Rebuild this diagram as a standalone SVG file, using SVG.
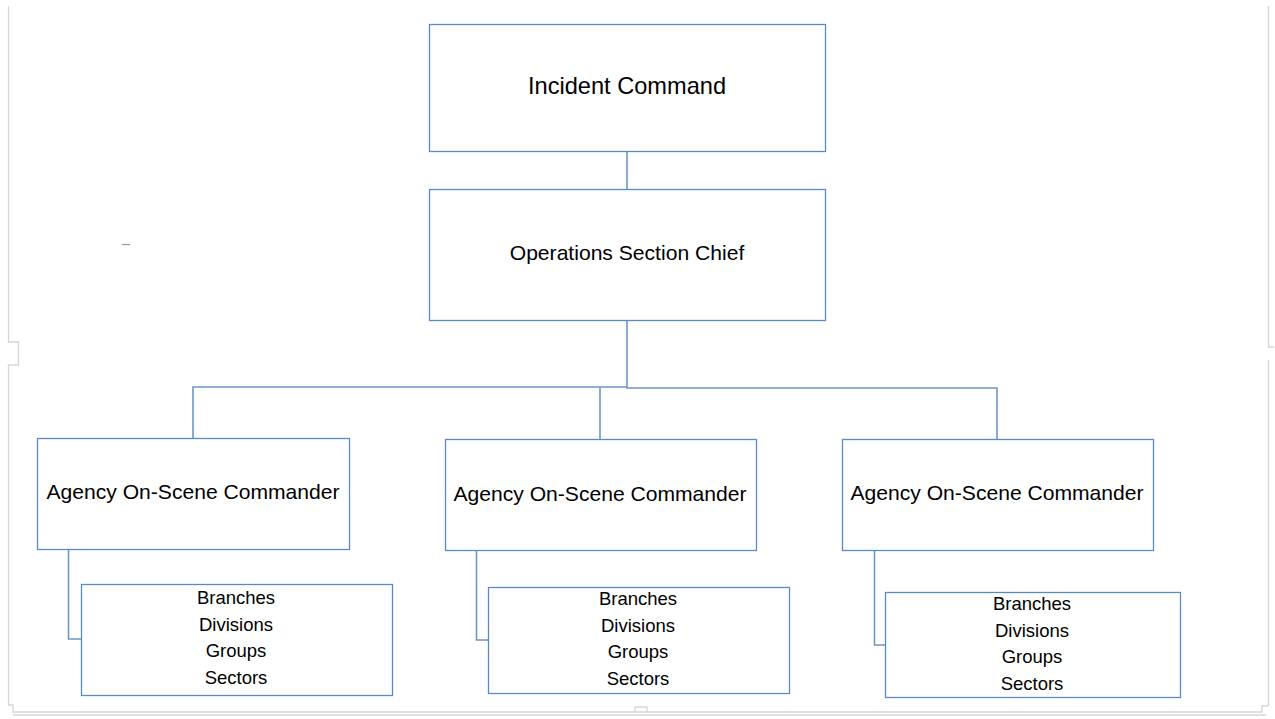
<svg xmlns="http://www.w3.org/2000/svg" width="1275" height="719" viewBox="0 0 1275 719">
<style>
.box{fill:#fff;stroke:#5a8ac6;stroke-width:1.3}
.ln{fill:none;stroke:#6b97c9;stroke-width:1.6}
.pg{fill:none;stroke:#d6d6d6;stroke-width:1.3}
text{font-family:"Liberation Sans",Arial,sans-serif;fill:#000;text-anchor:middle}
.t1{font-size:23.6px}
.t2{font-size:21.1px}
.t3{font-size:18.5px}
</style>
<rect width="1275" height="719" fill="#fff"/>
<g id="page">
<path class="pg" d="M8.5 6 V342 H18.5 V365 H8.5 V705 H13 V712 H1262 V706 H1268"/>
<path class="pg" d="M13 715 H1266"/>
<path class="pg" d="M1268.5 6 V347 H1274"/>
<path class="pg" d="M1268.5 360 V706"/>
<path class="pg" d="M635 712 V707 H647 V712"/>
<path d="M122 244.5 H130" stroke="#9a9a9a" stroke-width="1.2"/>
</g>
<g id="connectors">
<path class="ln" d="M627 151 V189"/>
<path class="ln" d="M627 320 V387 H193 V438"/>
<path class="ln" d="M627 387 V388 H997 V439"/>
<path class="ln" d="M600 388 V439"/>
<path class="ln" d="M68.5 549 V639 H81"/>
<path class="ln" d="M476.5 550 V640 H488"/>
<path class="ln" d="M874.5 550 V645 H885"/>
</g>
<g id="incident-command">
<rect class="box" x="429.5" y="24.5" width="396" height="127"/>
<text class="t1" x="627" y="94">Incident Command</text>
</g>
<g id="operations-section-chief">
<rect class="box" x="429.5" y="189.5" width="396" height="131"/>
<text class="t2" x="627" y="260">Operations Section Chief</text>
</g>
<g id="agency-1">
<rect class="box" x="37.5" y="438.5" width="312" height="111"/>
<text class="t2" x="193" y="499">Agency On-Scene Commander</text>
</g>
<g id="agency-2">
<rect class="box" x="445.5" y="439.5" width="311" height="111"/>
<text class="t2" x="600" y="501">Agency On-Scene Commander</text>
</g>
<g id="agency-3">
<rect class="box" x="842.5" y="439.5" width="311" height="111"/>
<text class="t2" x="997" y="500">Agency On-Scene Commander</text>
</g>
<g id="units-1">
<rect class="box" x="81.5" y="584.5" width="311" height="111"/>
<text class="t3" x="236" y="604">Branches</text>
<text class="t3" x="236" y="631">Divisions</text>
<text class="t3" x="236" y="657">Groups</text>
<text class="t3" x="236" y="684">Sectors</text>
</g>
<g id="units-2">
<rect class="box" x="488.5" y="587.5" width="301" height="106"/>
<text class="t3" x="638" y="605">Branches</text>
<text class="t3" x="638" y="632">Divisions</text>
<text class="t3" x="638" y="658">Groups</text>
<text class="t3" x="638" y="685">Sectors</text>
</g>
<g id="units-3">
<rect class="box" x="885.5" y="592.5" width="295" height="105"/>
<text class="t3" x="1032" y="610">Branches</text>
<text class="t3" x="1032" y="637">Divisions</text>
<text class="t3" x="1032" y="663">Groups</text>
<text class="t3" x="1032" y="690">Sectors</text>
</g>
</svg>
